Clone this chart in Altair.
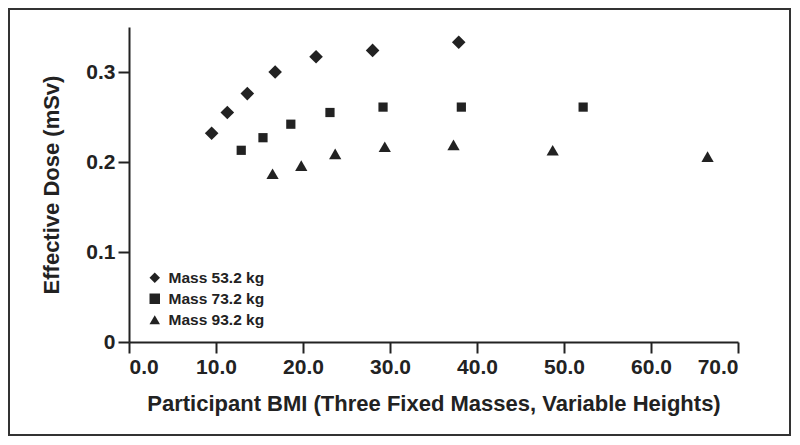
import altair as alt
import pandas as pd

series = ["Mass 53.2 kg", "Mass 73.2 kg", "Mass 93.2 kg"]
shapes = ["diamond", "square", "triangle-up"]
sizes = [185, 85, 150]

bmi_53 = [9.5, 11.3, 13.6, 16.8, 21.5, 28.0, 37.9]
dose_53 = [0.232, 0.255, 0.276, 0.300, 0.317, 0.324, 0.333]
bmi_73 = [12.9, 15.4, 18.6, 23.1, 29.2, 38.2, 52.2]
dose_73 = [0.213, 0.227, 0.242, 0.255, 0.261, 0.261, 0.261]
bmi_93 = [16.5, 19.8, 23.7, 29.4, 37.3, 48.7, 66.5]
dose_93 = [0.187, 0.196, 0.209, 0.217, 0.219, 0.213, 0.206]

x_ticks = [0, 10, 20, 30, 40, 50, 60, 70]
y_ticks = [0, 0.1, 0.2, 0.3]

INK = "#222222"
FONT = "Liberation Sans"

shape_scale = alt.Scale(domain=series, range=shapes)
legend = alt.Legend(title=None, orient="none", legendX=18, legendY=243,
                    symbolSize=110, symbolFillColor=INK, symbolStrokeColor=INK,
                    symbolStrokeWidth=0,
                    labelFont=FONT, labelFontSize=15.5, labelFontWeight="bold",
                    labelColor=INK, labelOffset=6, rowPadding=4, padding=0)

layers = []
for name, xs, ys, sz in zip(series, [bmi_53, bmi_73, bmi_93], [dose_53, dose_73, dose_93], sizes):
    d = pd.DataFrame({"series": [name] * len(xs), "bmi": xs, "dose": ys})
    layers.append(
        alt.Chart(d).mark_point(filled=True, opacity=1, color=INK, size=sz).encode(
            x=alt.X("bmi:Q",
                    scale=alt.Scale(domain=[0, 70], nice=False, zero=False),
                    axis=alt.Axis(values=x_ticks, format=".1f",
                                  title="Participant BMI (Three Fixed Masses, Variable Heights)",
                                  titleY=68, titleBaseline="alphabetic")),
            y=alt.Y("dose:Q",
                    scale=alt.Scale(domain=[0, 0.35], nice=False),
                    axis=alt.Axis(values=y_ticks,
                                  labelExpr="datum.value == 0 ? '0' : format(datum.value, '.1f')",
                                  title="Effective Dose (mSv)",
                                  titleX=-71, titleBaseline="alphabetic")),
            shape=alt.Shape("series:N", scale=shape_scale, legend=legend),
        )
    )

frame = alt.Chart(alt.Data(values=[{"k": 1}])).mark_rect(
    fillOpacity=0, stroke="#333333", strokeWidth=2, clip=False
).encode(
    x=alt.value(-120), x2=alt.value(661), y=alt.value(-18), y2=alt.value(408)
)

chart = alt.layer(frame, *layers).properties(
    width=609, height=315,
    autosize=alt.AutoSizeParams(type="none"),
    padding={"left": 121, "top": 19, "right": 54, "bottom": 95},
).configure_view(stroke=None).configure_axis(
    grid=False, domainColor=INK, domainWidth=2, tickColor=INK, tickWidth=2, tickSize=11,
    labelFont=FONT, labelFontSize=21, labelFontWeight="bold", labelColor=INK, labelPadding=3,
    titleFont=FONT, titleFontSize=22, titleFontWeight="bold", titleColor=INK,
)

chart.save("out.html", embed_options={"renderer": "svg", "actions": False})
